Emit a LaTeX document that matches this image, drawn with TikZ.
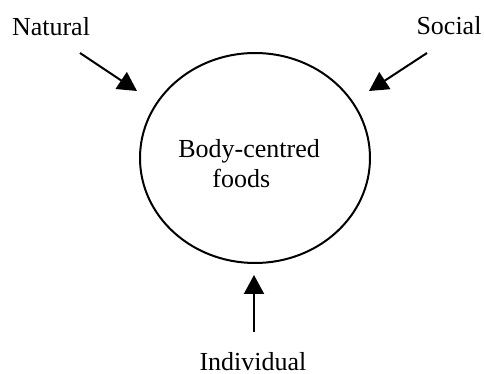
\documentclass[tikz,border=0pt]{standalone}
\usepackage{fontspec}
\setmainfont{Liberation Serif}
\usetikzlibrary{arrows.meta, shapes.geometric}

\tikzset{
  label text/.style={anchor=base, inner sep=0pt, font=\fontsize{13}{15.6}\selectfont},
  push/.style={line width=1pt, -{Triangle[length=9.5pt, width=10pt]}}
}

\begin{document}
\begin{tikzpicture}[x=0.5pt, y=-0.5pt]
    \useasboundingbox (0,0) rectangle (484,374);
    % Central ellipse
    \node[draw, ellipse, line width=1pt, minimum width=115pt, minimum height=105pt, inner sep=0pt] (body) at (255,158) {};
    \node[label text, anchor=base west] (bodyA) at (178,158) {Body-centred};
    \node[label text, anchor=base west] (bodyB) at (212,188) {foods};
    % Influences
    \node[label text] (natural) at (51,36) {Natural};
    \node[label text] (social) at (449,35) {Social};
    \node[label text] (individual) at (253,371) {Individual};
    % Arrow ends
    \coordinate (natS) at (80,53);
    \coordinate (natE) at (137,91);
    \coordinate (socS) at (427,53);
    \coordinate (socE) at (369,91);
    \coordinate (indS) at (254,332);
    \coordinate (indE) at (254,275);
    \draw[push] (natS) -- (natE);
    \draw[push] (socS) -- (socE);
    \draw[push] (indS) -- (indE);
\end{tikzpicture}
\end{document}
